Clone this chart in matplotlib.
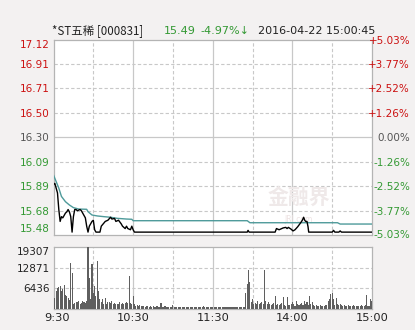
import numpy as np
import matplotlib
matplotlib.use("Agg")
import matplotlib.pyplot as plt
from matplotlib.transforms import ScaledTranslation

# ---------------- data ----------------
price_ticks = [15.48, 15.68, 15.89, 16.09, 16.30, 16.50, 16.71, 16.91, 17.12]
price_labels = ["15.48", "15.68", "15.89", "16.09", "16.30", "16.50", "16.71", "16.91", "17.12"]
pct_labels = ["-5.03%", "-3.77%", "-2.52%", "-1.26%", "0.00%", "+1.26%", "+2.52%", "+3.77%", "+5.03%"]
prev_close = 16.30

time_ticks = [0, 60, 120, 180, 240]
time_labels = ["9:30", "10:30", "11:30", "14:00", "15:00"]

vol_ticks = [6436, 12871, 19307]
vol_labels = ["6436", "12871", "19307"]

price_min = [0, 1, 3, 4, 5, 6, 7, 8, 9, 10, 11, 12, 13, 14, 15, 16, 17, 18, 20, 21, 22,
             24, 25, 26, 27, 29, 30, 31, 32, 35, 36, 39, 41, 43, 44, 46, 47, 49, 51, 52,
             54, 55, 56, 58, 59, 60, 61, 146, 146.6, 147.4, 167, 168, 170, 173, 175, 176,
             177, 179, 180.5, 182, 184, 186, 187.5, 188.5, 189.3, 190, 191, 191.8, 192.3,
             210, 211, 212, 215, 216, 217, 240]
price_val = [15.90, 15.91, 15.83, 15.69, 15.59, 15.63, 15.62, 15.64, 15.66, 15.67, 15.69,
             15.67, 15.63, 15.50, 15.63, 15.69, 15.69, 15.68, 15.69, 15.68, 15.66,
             15.62, 15.55, 15.50, 15.55, 15.59, 15.60, 15.52, 15.50, 15.50, 15.55, 15.59,
             15.60, 15.625, 15.61, 15.615, 15.59, 15.60, 15.57, 15.55,
             15.53, 15.55, 15.53, 15.52, 15.55, 15.52, 15.50, 15.50, 15.515, 15.50, 15.50,
             15.53, 15.52, 15.535, 15.54, 15.53,
             15.54, 15.525, 15.51, 15.52, 15.545, 15.575, 15.60, 15.625, 15.60, 15.59,
             15.59, 15.545, 15.50,
             15.50, 15.515, 15.50, 15.50, 15.51, 15.50, 15.50]

avg_min = [0, 4, 6, 9, 12, 15, 19, 25, 26, 29, 33, 38, 43, 48, 55, 59, 60, 146, 148,
           214, 216, 240]
avg_val = [15.98, 15.87, 15.80, 15.756, 15.728, 15.706, 15.694, 15.692, 15.672, 15.644,
           15.636, 15.630, 15.625, 15.616, 15.610, 15.608, 15.596, 15.596, 15.579,
           15.579, 15.568, 15.568]

volumes = [
    12100, 3400, 5500, 6300, 6900, 7000, 5500, 6200, 7500, 4200,
    3900, 3200, 2800, 14200, 11000, 1500, 1800, 2100, 2000, 2400,
    1500, 1700, 2400, 1900, 1800, 2200, 19300, 9700, 2900, 13900,
    5000, 7000, 3900, 14900, 5500, 2900, 1900, 2900, 1500, 3200,
    1400, 1900, 2000, 1700, 2400, 1400, 1600, 1400, 1500, 1400,
    2100, 1400, 1700, 1400, 1700, 2000, 1800, 10200, 1600, 1400,
    4000, 1300, 900, 1100, 800, 1000, 700, 900, 800, 600,
    900, 700, 600, 800, 600, 700, 500, 600, 800, 600,
    500, 1800, 600, 500, 700, 500, 600, 500, 500, 400,
    1100, 500, 400, 500, 400, 500, 400, 600, 400, 500,
    400, 500, 400, 500, 400, 500, 400, 500, 400, 500,
    400, 500, 400, 800, 400, 500, 400, 500, 400, 500,
    600, 400, 500, 400, 500, 600, 400, 500, 400, 500,
    400, 500, 400, 500, 400, 600, 500, 400, 500, 400,
    500, 400, 600, 500, 400, 5000, 7600, 12100, 8200, 1900,
    3000, 1300, 1800, 1400, 2400, 1300, 1800, 2100, 1400, 12100,
    2500, 1500, 2000, 1400, 1000, 1400, 1700, 3800, 1000, 1500,
    1000, 1500, 1800, 3500, 1000, 700, 3500, 1000, 1200, 1500,
    2000, 1400, 900, 2500, 1500, 1000, 1400, 1800, 1000, 2500,
    1500, 2000, 1000, 3800, 1400, 2000, 1000, 700, 1000, 900,
    800, 1000, 700, 900, 800, 1000, 1200, 2500, 3100, 4500,
    5000, 2900, 1000, 3400, 1400, 1000, 1400, 1000, 800, 1200,
    900, 700, 1000, 800, 900, 700, 1000, 800, 700, 900,
    700, 800, 1000, 700, 900, 1000, 4200, 700, 900, 3000,
    2500,
]

# ---------------- styling ----------------
BG = "#f3f1f1"
RED = "#cc1111"
GREEN = "#339933"
GRAY = "#555555"
GRID = "#c8c8c8"
SPINE = "#b4b4b4"
TEAL = "#4e9a9a"
CJK = ["Noto Sans CJK SC", "DejaVu Sans"]

fig = plt.figure(figsize=(4.15, 3.30), dpi=100, facecolor=BG)
W, H = 415.0, 330.0

def rect(x0, y0, x1, y1):
    return [x0 / W, 1 - y1 / H, (x1 - x0) / W, (y1 - y0) / H]

ax = fig.add_axes(rect(53.5, 39.5, 372, 234.5))
axv = fig.add_axes(rect(53.5, 247, 372, 308.5))

for a in (ax, axv):
    a.set_facecolor("white")
    for s in a.spines.values():
        s.set_color(SPINE)
        s.set_linewidth(0.9)
    a.set_xlim(0, 240)
    for m in (60, 120, 180):
        a.axvline(m, color=GRID, lw=0.9, zorder=0)
    for m in (30, 90, 150, 210):
        a.axvline(m, color=GRID, lw=0.8, ls=(0, (3, 2)), zorder=0)

# ---- price panel ----
ax.set_ylim(price_ticks[0], price_ticks[-1])
for p in price_ticks[1:-1]:
    if abs(p - prev_close) < 1e-6:
        ax.axhline(p, color=GRID, lw=0.9, zorder=0)
    else:
        ax.axhline(p, color=GRID, lw=0.8, ls=(0, (3, 2)), zorder=0)

ax.plot(avg_min, avg_val, color=TEAL, lw=1.0, zorder=3)
ax.plot(price_min, price_val, color="black", lw=1.0, zorder=4)

ax.set_xticks([])
ax.set_yticks(price_ticks)
ax.set_yticklabels(price_labels, fontsize=7.5, family="DejaVu Sans")
ax.tick_params(axis="y", length=0, pad=2.5)
for lbl, p in zip(ax.get_yticklabels(), price_ticks):
    lbl.set_color(RED if p > prev_close + 1e-6 else (GRAY if abs(p - prev_close) < 1e-6 else GREEN))
ylbls = ax.get_yticklabels()
ylbls[0].set_va("bottom")
ylbls[-1].set_va("top")

ax2 = ax.twinx()
ax2.set_ylim(price_ticks[0], price_ticks[-1])
ax2.set_yticks(price_ticks)
ax2.set_yticklabels(pct_labels, fontsize=7.5, family="DejaVu Sans")
ax2.tick_params(axis="y", length=0, pad=27.5)
for s in ax2.spines.values():
    s.set_visible(False)
for lbl, t in zip(ax2.get_yticklabels(), pct_labels):
    lbl.set_ha("right")
    lbl.set_color(RED if t.startswith("+") else (GREEN if t.startswith("-") else GRAY))

# watermark
ax.text(0.77, 0.19, "金融界", transform=ax.transAxes, fontsize=15, color="#efe9e9",
        family=CJK, ha="center", va="center", zorder=1, fontweight="bold")
ax.text(0.77, 0.075, "JRJ.com", transform=ax.transAxes, fontsize=5.5, color="#ede3e3",
        ha="center", va="center", zorder=1)

# ---- volume panel ----
axv.set_ylim(0, vol_ticks[-1])
for v in vol_ticks[:-1]:
    axv.axhline(v, color=GRID, lw=0.8, ls=(0, (3, 2)), zorder=0)
axv.bar(np.arange(len(volumes)), volumes, width=0.8, color="#5f5f5f", zorder=3, linewidth=0)
axv.set_yticks(vol_ticks)
axv.set_yticklabels(vol_labels, fontsize=7.5, color="#222222", family="DejaVu Sans")
axv.tick_params(axis="y", length=0, pad=2.5)
axv.get_yticklabels()[-1].set_va("top")
axv.set_xticks(time_ticks)
axv.set_xticklabels(time_labels, fontsize=8.2, color="#222222", family="DejaVu Sans")
axv.tick_params(axis="x", length=0, pad=3)
first = axv.get_xticklabels()[0]
first.set_transform(first.get_transform() + ScaledTranslation(3.5 / 100, 0, fig.dpi_scale_trans))

# ---- header ----
yh = 1 - 31 / H
fig.text(52 / W, yh, "*ST五稀 [000831]", fontsize=8.3, family=CJK, color="#222222", va="center", ha="left")
fig.text(164 / W, yh, "15.49", fontsize=8, family="DejaVu Sans", color=GREEN, va="center", ha="left")
fig.text(200 / W, yh, "-4.97%↓", fontsize=8, family="DejaVu Sans", color=GREEN, va="center", ha="left")
fig.text(375 / W, yh, "2016-04-22 15:00:45", fontsize=8, family="DejaVu Sans", color="#222222",
         va="center", ha="right")

fig.savefig("out.png", dpi=100, facecolor=BG)
